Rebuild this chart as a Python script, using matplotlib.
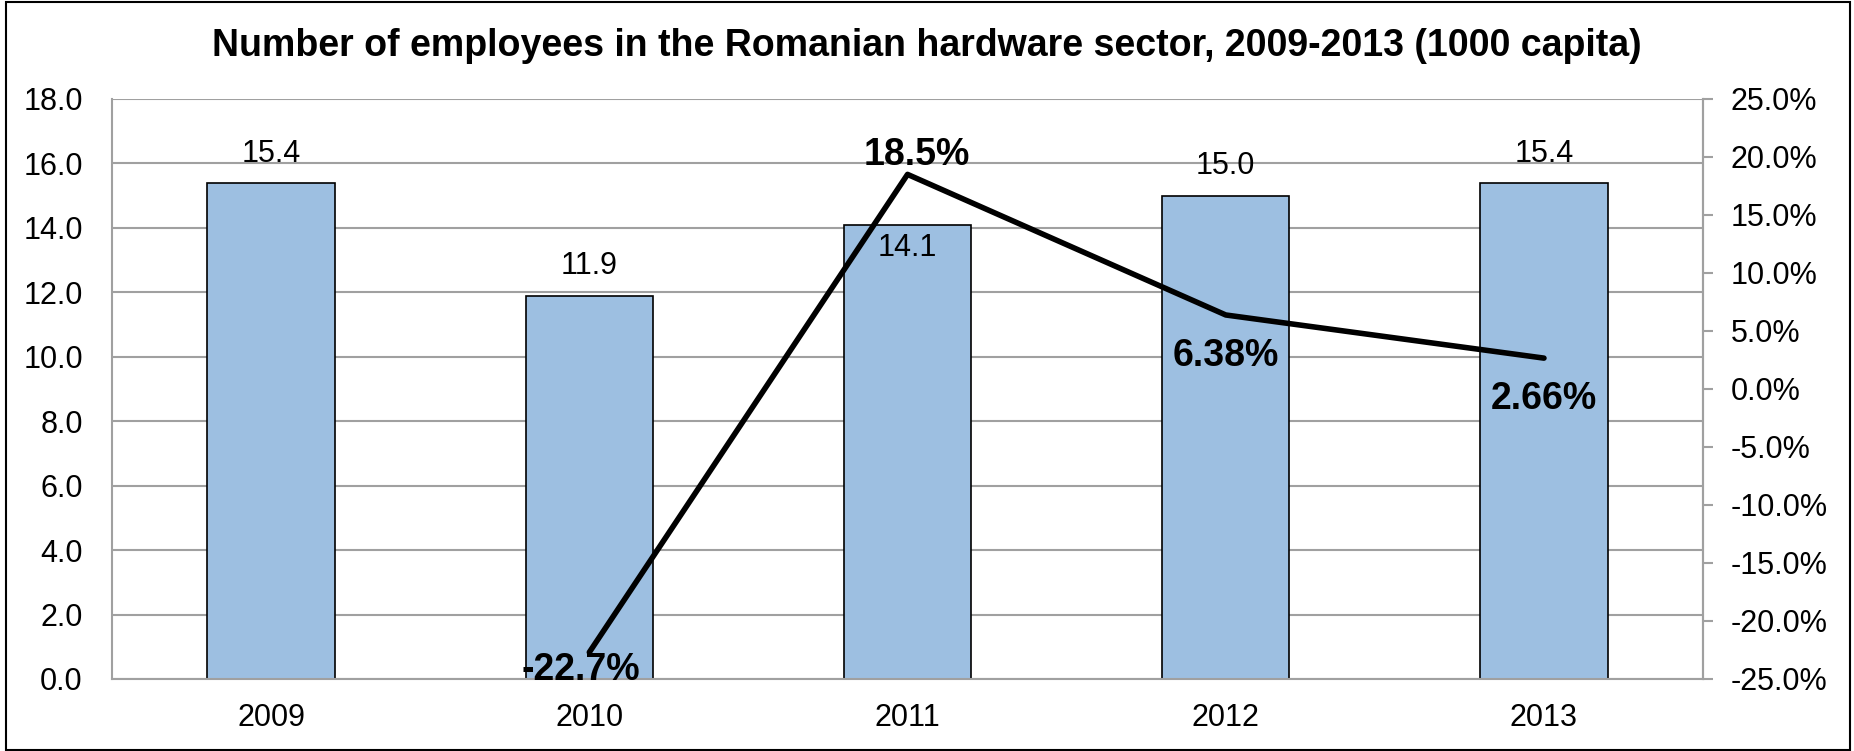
import numpy as np
import matplotlib
matplotlib.use("Agg")
import matplotlib.pyplot as plt
from matplotlib.patches import Rectangle

plt.rcParams['font.family'] = ['Liberation Sans', 'DejaVu Sans']

# ---- data ----
years = ["2009", "2010", "2011", "2012", "2013"]
employees = [15.4, 11.9, 14.1, 15.0, 15.4]           # 1000 capita
growth = [np.nan, -22.7, 18.5, 6.38, 2.66]            # % change y/y
growth_labels = ["", "-22.7%", "18.5%", "6.38%", "2.66%"]

BAR_COLOR = "#9dbfe1"
GRID_COLOR = "#a0a0a0"
FS = 22

fig = plt.figure(figsize=(18.54, 7.51), dpi=100)
ax = fig.add_axes([0.0604, 0.0959, 0.9186 - 0.0604, 0.8682 - 0.0959])
ax2 = ax.twinx()

x = np.arange(len(years))

# bars (left axis)
ax.bar(x, employees, width=0.4, color=BAR_COLOR, edgecolor="black", linewidth=1.2, zorder=2)
ax.set_xlim(-0.5, len(years) - 0.5)
ax.set_ylim(0, 18)
ax.set_yticks(np.arange(0, 18.1, 2))
ax.set_yticklabels([f"{v:.1f}" for v in np.arange(0, 18.1, 2)])
ax.set_xticks(x)
ax.set_xticklabels(years)
ax.yaxis.grid(True, color=GRID_COLOR, linewidth=1.5, zorder=0)
ax.set_axisbelow(True)
ax.tick_params(axis="y", length=0, pad=21, labelsize=FS)
ax.tick_params(axis="x", length=0, pad=17, labelsize=FS)

ax.spines["top"].set_visible(False)
ax2.spines["top"].set_visible(False)
for sp in ["left", "bottom", "right"]:
    ax.spines[sp].set_color(GRID_COLOR)
    ax.spines[sp].set_linewidth(1.5)
ax2.spines["right"].set_color(GRID_COLOR)
ax2.spines["right"].set_linewidth(1.5)
ax2.spines["left"].set_visible(False)
ax2.spines["bottom"].set_visible(False)

# bar value labels
for xi, v, yr in zip(x, employees, years):
    dy = -17 if yr == "2011" else 21
    ax.annotate(f"{v:.1f}", (xi, v), xytext=(0, dy), textcoords="offset points",
                ha="center", va="center", fontsize=FS, zorder=3)

# growth line (right axis)
ax2.plot(x, growth, color="black", linewidth=4, solid_capstyle="round", zorder=4)
ax2.set_ylim(-25, 25)
ticks2 = np.arange(-25, 25.1, 5)
ax2.set_yticks(ticks2)
ax2.set_yticklabels([f"{t:.1f}%" for t in ticks2])
ax2.tick_params(axis="y", length=7, width=1.5, color=GRID_COLOR, pad=13, labelsize=FS)
for label in ax2.get_yticklabels():
    label.set_horizontalalignment("left")

for xi, g, lab in zip(x, growth, growth_labels):
    if np.isnan(g):
        continue
    if g > 15:
        off = (7, 14)
    elif g < -15:
        off = (-6, -13)
    else:
        off = (0, -29.5)
    t = ax2.annotate(lab, (xi, g), xytext=off, textcoords="offset points",
                     ha="center", va="center", fontsize=27, fontweight="bold", zorder=5)
    t.set_clip_on(True)

fig.text(0.5, 1 - 46 / 751, "Number of employees in the Romanian hardware sector, 2009-2013 (1000 capita)",
         ha="center", va="center", fontsize=27, fontweight="bold")

# outer chart border
fig.patches.append(Rectangle((6 / 1854, 1 / 751), 1 - 10 / 1854, 1 - 3 / 751, transform=fig.transFigure,
                             fill=False, edgecolor="black", linewidth=1.5))

fig.savefig("out.png", dpi=100)
